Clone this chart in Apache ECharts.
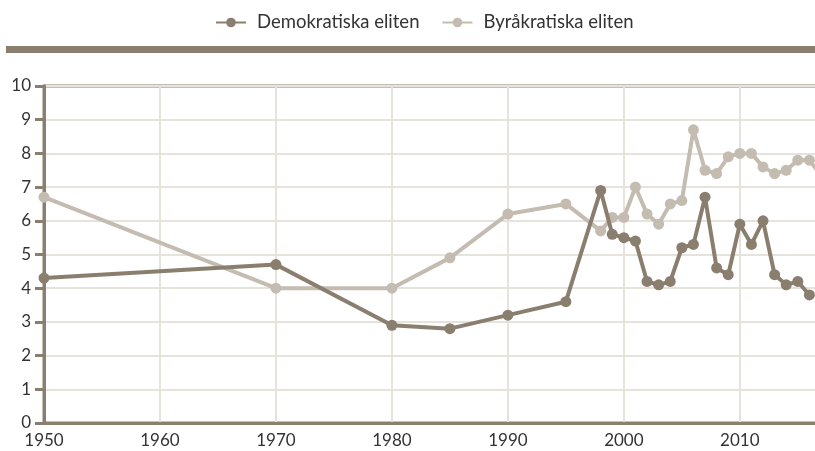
<!DOCTYPE html>
<html>
<head>
<meta charset="utf-8">
<script src="https://cdn.jsdelivr.net/npm/echarts@6/dist/echarts.min.js"></script>
<style>
html,body{margin:0;padding:0;background:#fff;}
#c{width:815px;height:451px;}
</style>
</head>
<body>
<div id="c"></div>
<script>
const seriesNames = ['Demokratiska eliten', 'Byråkratiska eliten'];
const demYears = [1950, 1970, 1980, 1985, 1990, 1995, 1998, 1999, 2000, 2001, 2002, 2003, 2004, 2005, 2006, 2007, 2008, 2009, 2010, 2011, 2012, 2013, 2014, 2015, 2016];
const demValues = [4.3, 4.7, 2.9, 2.8, 3.2, 3.6, 6.9, 5.6, 5.5, 5.4, 4.2, 4.1, 4.2, 5.2, 5.3, 6.7, 4.6, 4.4, 5.9, 5.3, 6.0, 4.4, 4.1, 4.2, 3.8];
const byrYears = [1950, 1970, 1980, 1985, 1990, 1995, 1998, 1999, 2000, 2001, 2002, 2003, 2004, 2005, 2006, 2007, 2008, 2009, 2010, 2011, 2012, 2013, 2014, 2015, 2016, 2017];
const byrValues = [6.7, 4.0, 4.0, 4.9, 6.2, 6.5, 5.7, 6.1, 6.1, 7.0, 6.2, 5.9, 6.5, 6.6, 8.7, 7.5, 7.4, 7.9, 8.0, 8.0, 7.6, 7.4, 7.5, 7.8, 7.8, 7.35];

const DARK = '#8a7e6e';
const LIGHT = '#c5bcb1';
const GRIDC = '#e6e2dc';
const FONT = 'Lato';

const chart = echarts.init(document.getElementById('c'), null, {renderer: 'canvas'});
const zip = (xs, ys) => xs.map((x, i) => [x, ys[i]]);

chart.setOption({
  animation: false,
  textStyle: {fontFamily: FONT},
  legend: {
    top: 8,
    left: 210,
    itemWidth: 30,
    itemHeight: 12,
    itemGap: 22,
    textStyle: {fontSize: 18.5, color: '#333', fontFamily: FONT, padding: [0, 0, 0, 6]},
    data: seriesNames
  },
  graphic: [{
    type: 'rect',
    shape: {x: 6, y: 46, width: 809, height: 7},
    style: {fill: DARK},
    silent: true
  }],
  grid: {
    left: 44, width: 777, top: 86, height: 337,
    outerBoundsMode: 'none', containLabel: false,
    show: true, borderColor: DARK, borderWidth: 3, backgroundColor: 'transparent'
  },
  xAxis: {
    type: 'value',
    min: 1950, max: 2017, interval: 10,
    axisLine: {show: true, onZero: false, lineStyle: {color: DARK, width: 3}},
    axisTick: {show: false},
    axisLabel: {color: '#333', fontSize: 17, margin: 9, fontFamily: FONT,
      formatter: v => (v % 10 === 0 && v <= 2010) ? String(v) : ''},
    splitLine: {show: true, lineStyle: {color: GRIDC, width: 2}}
  },
  yAxis: {
    type: 'value',
    min: 0, max: 10, interval: 1,
    axisLine: {show: true, lineStyle: {color: DARK, width: 3}},
    axisTick: {show: true, length: 9, lineStyle: {color: DARK, width: 3}},
    axisLabel: {color: '#333', fontSize: 17, margin: 13, fontFamily: FONT},
    splitLine: {show: true, lineStyle: {color: GRIDC, width: 2}}
  },
  series: [
    {
      name: seriesNames[0], type: 'line', z: 4,
      data: zip(demYears, demValues),
      symbol: 'circle', symbolSize: 11, clip: true,
      lineStyle: {color: DARK, width: 4},
      itemStyle: {color: DARK}
    },
    {
      name: seriesNames[1], type: 'line', z: 3,
      data: zip(byrYears, byrValues),
      symbol: 'circle', symbolSize: 11, clip: true,
      lineStyle: {color: LIGHT, width: 4},
      itemStyle: {color: LIGHT}
    }
  ]
});
</script>
</body>
</html>
